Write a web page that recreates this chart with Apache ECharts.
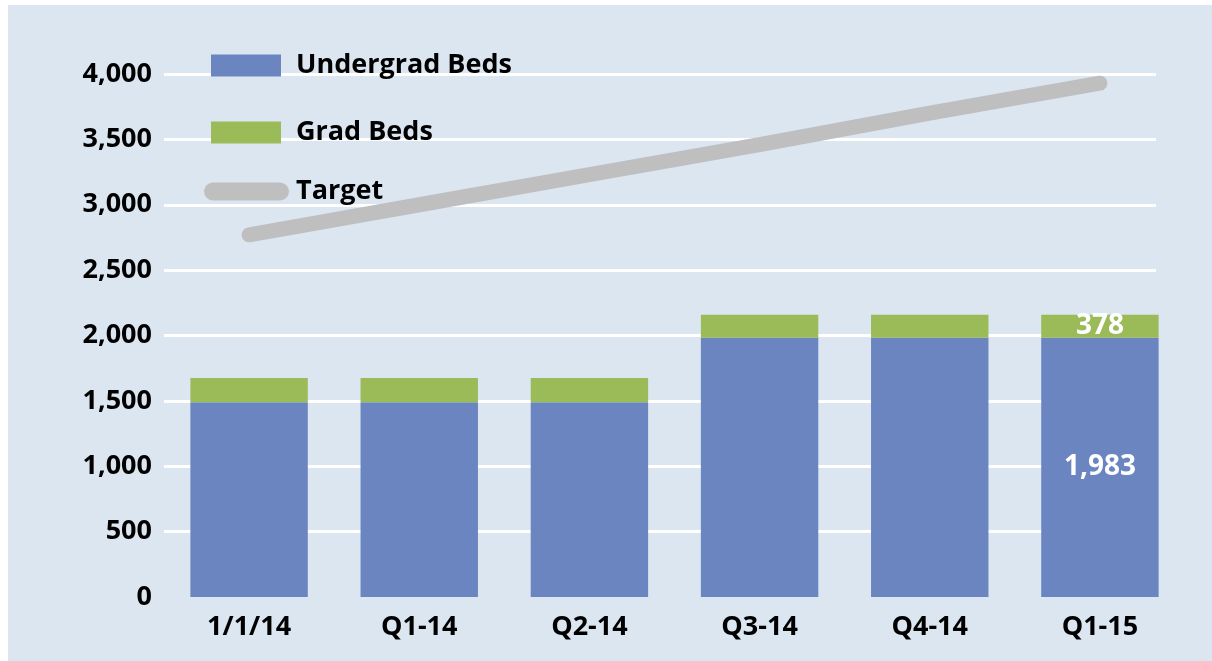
<!DOCTYPE html>
<html>
<head>
<meta charset="utf-8">
<script src="https://cdn.jsdelivr.net/npm/echarts@6/dist/echarts.min.js"></script>
<style>
  html, body { margin: 0; padding: 0; background: #ffffff; }
  #chart { width: 1212px; height: 661px; }
</style>
</head>
<body>
<div id="chart"></div>
<script>
const categories = ['1/1/14', 'Q1-14', 'Q2-14', 'Q3-14', 'Q4-14', 'Q1-15']
const undergradBeds = [1490, 1490, 1490, 1983, 1983, 1983]
const gradBeds = [185, 185, 185, 175, 175, 175]
const target = [2770, 3000, 3230, 3460, 3700, 3930]
// labels as printed on the picture (only the last column carries them)
const undergradLabels = ['', '', '', '', '', '1,983']
const gradLabels = ['', '', '', '', '', '378']

const font = 'Open Sans'
const chart = echarts.init(document.getElementById('chart'))

const labelFor = (texts) => ({
  show: true,
  position: 'inside',
  color: '#ffffff',
  fontFamily: font,
  fontWeight: 'bold',
  fontSize: 28,
  formatter: (p) => texts[p.dataIndex],
})

const legendText = { fontFamily: font, fontWeight: 'bold', fontSize: 27, color: '#000' }

chart.setOption({
  backgroundColor: '#ffffff',
  animation: false,
  graphic: [
    {
      type: 'rect',
      z: -10,
      shape: { x: 8, y: 5, width: 1204, height: 656 },
      style: { fill: '#dbe6f1' },
    },
    // gridlines stop short of the plot's right edge in the original
    {
      type: 'rect',
      z: 1,
      shape: { x: 1156, y: 60, width: 40, height: 530 },
      style: { fill: '#dbe6f1' },
    },
  ],
  grid: { left: 164, right: 27, top: 74, bottom: 64 },
  legend: [
    {
      orient: 'vertical',
      left: 211,
      top: 52,
      padding: 0,
      icon: 'rect',
      itemWidth: 70,
      itemHeight: 22,
      itemGap: 40,
      data: ['Undergrad Beds', 'Grad Beds'],
      textStyle: { ...legendText, padding: [0, 0, 0, 10] },
    },
    {
      left: 204,
      top: 178,
      padding: 0,
      itemWidth: 85,
      itemHeight: 18,
      data: [{ name: 'Target', icon: 'path://M9,0 L76,0 A9,9 0 0 1 76,18 L9,18 A9,9 0 0 1 9,0 Z' }],
      textStyle: { ...legendText, padding: [0, 0, 0, 2] },
    },
  ],
  xAxis: {
    type: 'category',
    data: categories,
    axisLine: { show: false },
    axisTick: { show: false },
    axisLabel: { margin: 17, color: '#000', fontFamily: font, fontWeight: 'bold', fontSize: 27 },
  },
  yAxis: {
    type: 'value',
    min: 0,
    max: 4000,
    interval: 500,
    axisLabel: {
      margin: 12,
      color: '#000',
      fontFamily: font,
      fontWeight: 'bold',
      fontSize: 27,
      formatter: (v) => v.toLocaleString('en-US'),
    },
    splitLine: { showMinLine: false, lineStyle: { color: '#ffffff', width: 3 } },
  },
  series: [
    {
      name: 'Undergrad Beds',
      type: 'bar',
      stack: 'beds',
      barWidth: '69%',
      data: undergradBeds,
      itemStyle: { color: '#6b85c1' },
      label: labelFor(undergradLabels),
    },
    {
      name: 'Grad Beds',
      type: 'bar',
      stack: 'beds',
      data: gradBeds,
      itemStyle: { color: '#9bbb59' },
      label: labelFor(gradLabels),
    },
    {
      name: 'Target',
      type: 'line',
      data: target,
      symbol: 'none',
      itemStyle: { color: '#bfbfbf' },
      lineStyle: { color: '#bfbfbf', width: 15, cap: 'round' },
      z: 3,
    },
  ],
})
</script>
</body>
</html>
